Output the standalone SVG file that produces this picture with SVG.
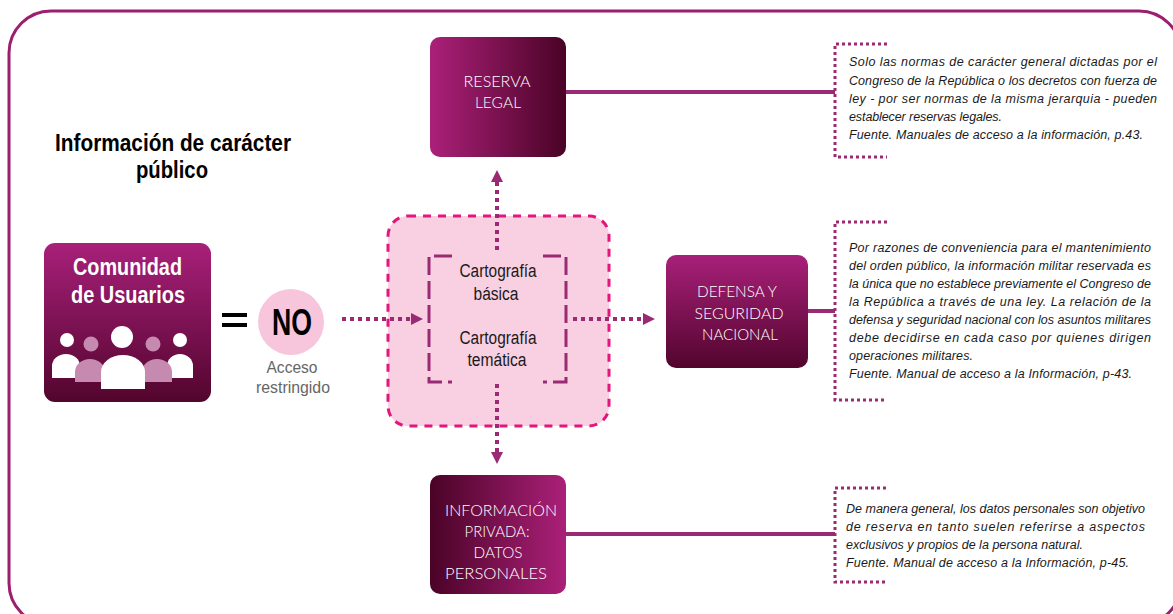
<svg xmlns="http://www.w3.org/2000/svg" width="1173" height="614" viewBox="0 0 1173 614">
<defs>
<linearGradient id="gH" x1="0" y1="0" x2="1" y2="0"><stop offset="0" stop-color="#ab2079"/><stop offset="1" stop-color="#4a0326"/></linearGradient>
<linearGradient id="gHr" x1="0" y1="0" x2="1" y2="0"><stop offset="0" stop-color="#4a0326"/><stop offset="1" stop-color="#ab2079"/></linearGradient>
<linearGradient id="gV" x1="0" y1="0" x2="0" y2="1"><stop offset="0" stop-color="#a8207a"/><stop offset="1" stop-color="#52052d"/></linearGradient>
<marker id="ah" viewBox="0 0 12 12" refX="0" refY="6" markerWidth="12" markerHeight="12" markerUnits="userSpaceOnUse" orient="auto"><path d="M0,0 L12,6 L0,12 Z" fill="#9b2a74"/></marker>
<style>
.frame{fill:none;stroke:#9c1f6f;stroke-width:3}
.dot{fill:none;stroke:#9b2a74;stroke-width:4;stroke-dasharray:4 4}
.link{fill:none;stroke:#9b2a74;stroke-width:4}
.brk{fill:none;stroke:#9b2a74;stroke-width:3;stroke-dasharray:3 3}
.bracket{fill:none;stroke:#9b2a74;stroke-width:3;stroke-dasharray:18 6}
.title{font-family:"Liberation Sans",Arial,sans-serif;font-weight:bold;font-size:24px;fill:#000}
.wt{font-family:"Liberation Sans",Arial,sans-serif;font-weight:bold;font-size:23px;fill:#fff;text-anchor:middle}
.boxlbl{font-family:Lato,"Open Sans",sans-serif;font-weight:300;font-size:16px;fill:#fff;text-anchor:middle}
.note{font-family:"Liberation Sans",Arial,sans-serif;font-style:italic;font-size:12.5px;fill:#1a1a1a}
.cart{font-family:"Liberation Sans",Arial,sans-serif;font-size:18px;fill:#1a1a1a;text-anchor:middle}
.gray{font-family:"Liberation Sans",Arial,sans-serif;font-size:17px;fill:#666;text-anchor:middle}
</style>
</defs>
<rect class="frame" x="9" y="11" width="1172" height="614" rx="42"/>

<g id="title">
<text class="title" x="173" y="151" text-anchor="middle" textLength="236" lengthAdjust="spacingAndGlyphs">Información de carácter</text>
<text class="title" x="172" y="178" text-anchor="middle" textLength="72" lengthAdjust="spacingAndGlyphs">público</text>
</g>

<g id="comunidad">
<rect x="44" y="243" width="167" height="159" rx="11" fill="url(#gV)"/>
<text class="wt" x="127.5" y="275" textLength="109" lengthAdjust="spacingAndGlyphs">Comunidad</text>
<text class="wt" x="128" y="303" textLength="114" lengthAdjust="spacingAndGlyphs">de Usuarios</text>
<g fill="#fff">
<circle cx="67" cy="340" r="7"/>
<path d="M52,378 V366 A14,12 0 0 1 80,366 V378 Z"/>
<circle cx="180" cy="340" r="7"/>
<path d="M167,378 V366 A13,12 0 0 1 193,366 V378 Z"/>
</g>
<g fill="#c68ab0">
<circle cx="91" cy="344" r="7.5"/>
<path d="M75,382 V372 A15,13 0 0 1 105,372 V382 Z"/>
<circle cx="153" cy="344" r="7.5"/>
<path d="M142,382 V372 A15,13 0 0 1 172,372 V382 Z"/>
</g>
<g fill="#fff">
<circle cx="122" cy="337" r="11"/>
<path d="M101,389 V372 A22,17 0 0 1 145,372 V389 Z"/>
</g>
</g>

<g id="equals" fill="#000">
<rect x="222" y="313" width="25" height="4"/>
<rect x="222" y="323" width="25" height="4"/>
</g>

<g id="no">
<circle cx="291" cy="322" r="33" fill="#f7c6dc"/>
<text x="292" y="335" text-anchor="middle" font-family="Liberation Sans, Arial, sans-serif" font-weight="bold" font-size="36" fill="#000" textLength="40" lengthAdjust="spacingAndGlyphs">NO</text>
<text class="gray" x="292" y="373" textLength="51" lengthAdjust="spacingAndGlyphs">Acceso</text>
<text class="gray" x="293" y="393" textLength="74" lengthAdjust="spacingAndGlyphs">restringido</text>
</g>

<g id="cartografia">
<rect x="388" y="216" width="221" height="210" rx="20" fill="#f9d0e2" stroke="#e5157e" stroke-width="3" stroke-dasharray="8 7"/>
<path class="bracket" d="M452,256 H429 V382 H452"/>
<path class="bracket" d="M543,256 H566 V382 H543"/>
<text class="cart" x="498" y="277" textLength="77" lengthAdjust="spacingAndGlyphs">Cartografía</text>
<text class="cart" x="496" y="300" textLength="45" lengthAdjust="spacingAndGlyphs">básica</text>
<text class="cart" x="498" y="344" textLength="77" lengthAdjust="spacingAndGlyphs">Cartografía</text>
<text class="cart" x="497" y="366" textLength="59" lengthAdjust="spacingAndGlyphs">temática</text>
</g>

<g id="reserva">
<rect x="430" y="37" width="136" height="120" rx="10" fill="url(#gH)"/>
<text class="boxlbl" x="497" y="87" textLength="67" lengthAdjust="spacingAndGlyphs">RESERVA</text>
<text class="boxlbl" x="498" y="108" textLength="46" lengthAdjust="spacingAndGlyphs">LEGAL</text>
</g>

<g id="defensa">
<rect x="666" y="255" width="142" height="113" rx="10" fill="url(#gV)"/>
<text class="boxlbl" x="737" y="297" textLength="80" lengthAdjust="spacingAndGlyphs">DEFENSA Y</text>
<text class="boxlbl" x="739" y="319" textLength="89" lengthAdjust="spacingAndGlyphs">SEGURIDAD</text>
<text class="boxlbl" x="740" y="340" textLength="76" lengthAdjust="spacingAndGlyphs">NACIONAL</text>
</g>

<g id="privada">
<rect x="430" y="475" width="136" height="119" rx="10" fill="url(#gHr)"/>
<text class="boxlbl" x="501" y="516" textLength="112" lengthAdjust="spacingAndGlyphs">INFORMACIÓN</text>
<text class="boxlbl" x="497" y="537" textLength="65" lengthAdjust="spacingAndGlyphs">PRIVADA:</text>
<text class="boxlbl" x="498" y="558" textLength="49" lengthAdjust="spacingAndGlyphs">DATOS</text>
<text class="boxlbl" x="496" y="579" textLength="102" lengthAdjust="spacingAndGlyphs">PERSONALES</text>
</g>

<g id="note-reserva">
<path class="brk" d="M887,44 H835 V157 H887"/>
<text class="note" x="849" y="66" textLength="308" lengthAdjust="spacing">Solo las normas de carácter general dictadas por el</text>
<text class="note" x="849" y="85" textLength="308" lengthAdjust="spacing">Congreso de la República o los decretos con fuerza de</text>
<text class="note" x="849" y="103" textLength="308" lengthAdjust="spacing">ley - por ser normas de la misma jerarquia - pueden</text>
<text class="note" x="849" y="121" textLength="153" lengthAdjust="spacing">establecer reservas legales.</text>
<text class="note" x="849" y="139" textLength="294" lengthAdjust="spacing">Fuente. Manuales de acceso a la información, p.43.</text>
</g>

<g id="note-defensa">
<path class="brk" d="M887,222 H835 V400 H887"/>
<text class="note" x="849" y="252" textLength="302" lengthAdjust="spacing">Por razones de conveniencia para el mantenimiento</text>
<text class="note" x="849" y="270" textLength="302" lengthAdjust="spacing">del orden público, la información militar reservada es</text>
<text class="note" x="849" y="288" textLength="302" lengthAdjust="spacing">la única que no establece previamente el Congreso de</text>
<text class="note" x="849" y="306" textLength="302" lengthAdjust="spacing">la República a través de una ley. La relación de la</text>
<text class="note" x="849" y="324" textLength="302" lengthAdjust="spacing">defensa y seguridad nacional con los asuntos militares</text>
<text class="note" x="849" y="342" textLength="302" lengthAdjust="spacing">debe decidirse en cada caso por quienes dirigen</text>
<text class="note" x="849" y="360" textLength="124" lengthAdjust="spacing">operaciones militares.</text>
<text class="note" x="849" y="378" textLength="283" lengthAdjust="spacing">Fuente. Manual de acceso a la Información, p-43.</text>
</g>

<g id="note-privada">
<path class="brk" d="M886,488 H835 V582 H886"/>
<text class="note" x="846" y="513" textLength="299" lengthAdjust="spacing">De manera general, los datos personales son objetivo</text>
<text class="note" x="846" y="531" textLength="299" lengthAdjust="spacing">de reserva en tanto suelen referirse a aspectos</text>
<text class="note" x="846" y="549" textLength="237" lengthAdjust="spacing">exclusivos y propios de la persona natural.</text>
<text class="note" x="846" y="567" textLength="283" lengthAdjust="spacing">Fuente. Manual de acceso a la Información, p-45.</text>
</g>

<g id="connectors">
<line class="dot" x1="342" y1="319" x2="411" y2="319" marker-end="url(#ah)"/>
<line class="dot" x1="573" y1="319" x2="643" y2="319" marker-end="url(#ah)"/>
<line class="dot" x1="497" y1="250" x2="497" y2="182" marker-end="url(#ah)"/>
<line class="dot" x1="497" y1="384" x2="497" y2="452" marker-end="url(#ah)"/>
<line class="link" x1="566" y1="92" x2="835" y2="92"/>
<line class="link" x1="808" y1="311" x2="835" y2="311"/>
<line class="link" x1="566" y1="534" x2="835" y2="534"/>
</g>
</svg>
